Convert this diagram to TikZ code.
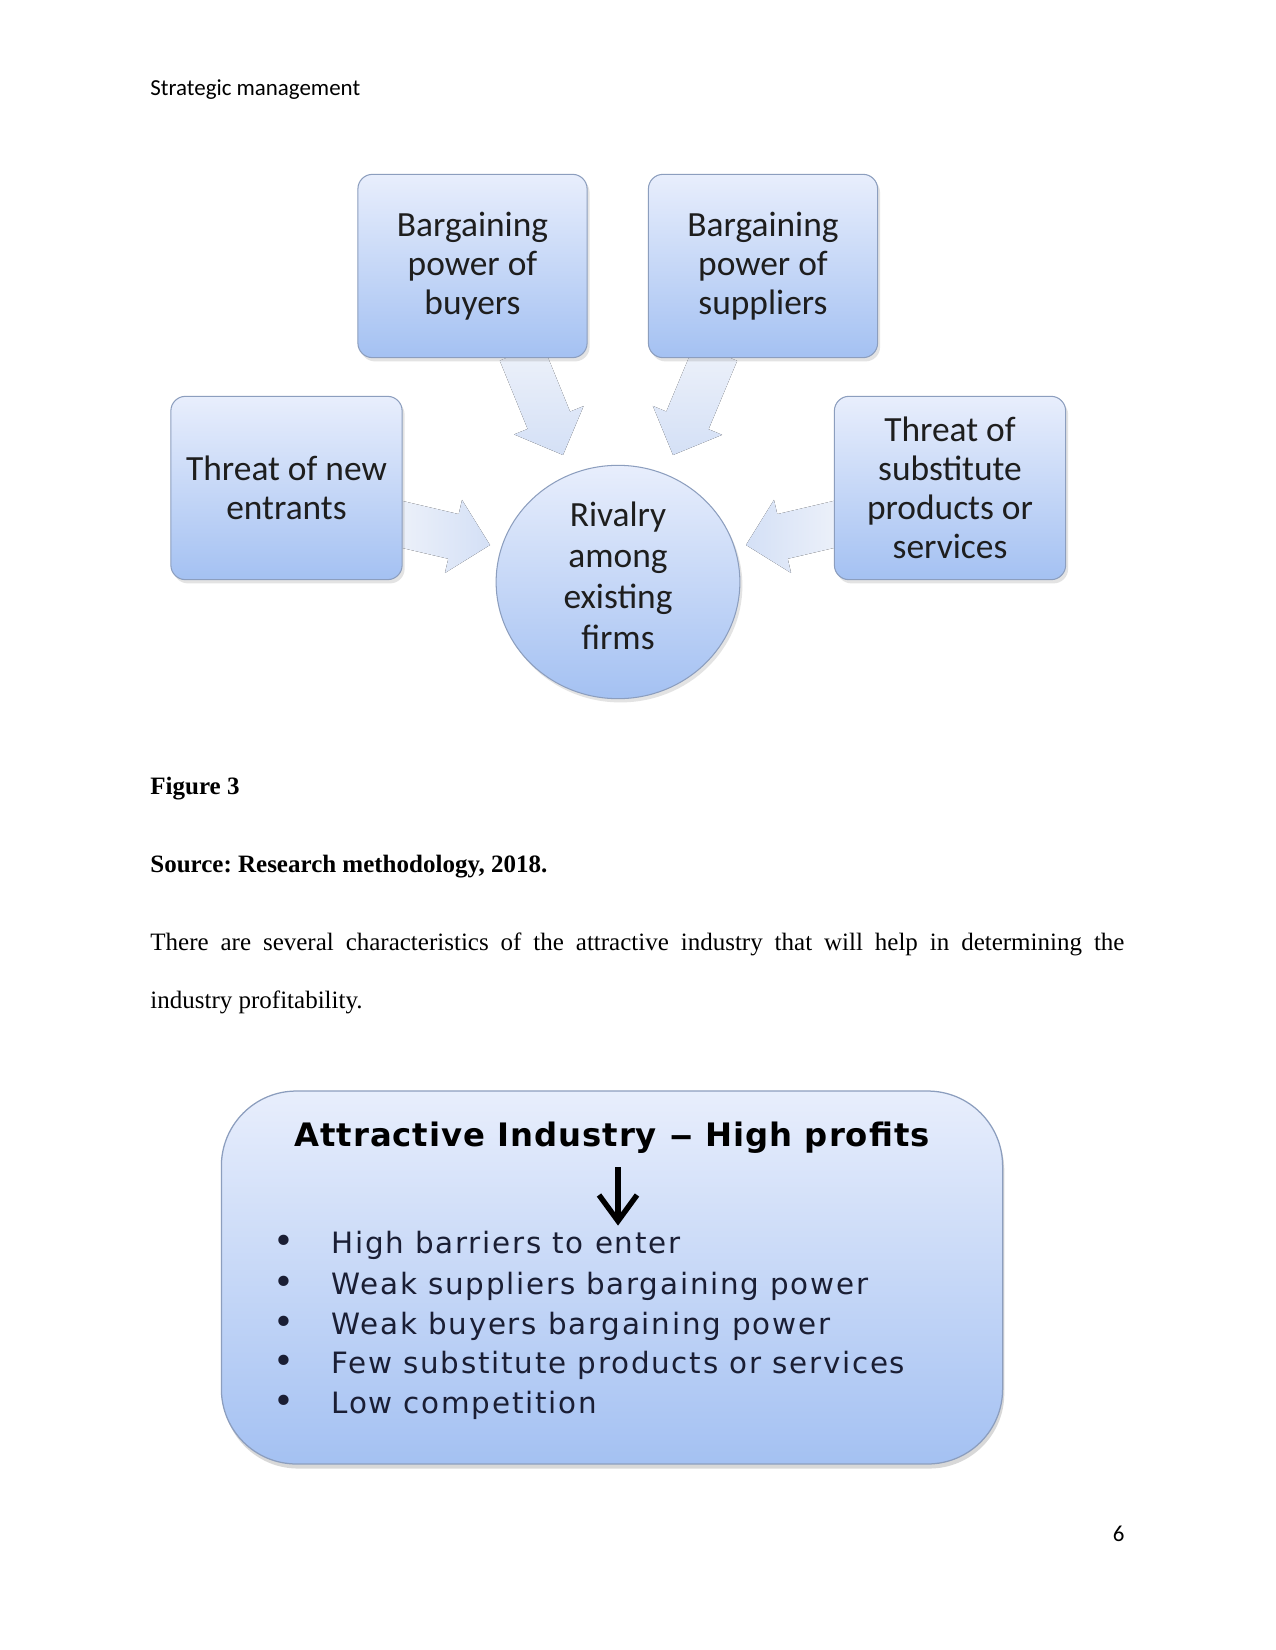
\documentclass[tikz,border=0pt]{standalone}
\usepackage{fontspec}
\setmainfont{Liberation Serif}
\newfontfamily\calibri{Carlito}
\newfontfamily\verd[LetterSpace=6]{DejaVu Sans}
\newfontfamily\verdb[LetterSpace=3]{DejaVu Sans Bold}
\newfontfamily\verdplain{DejaVu Sans}
\usetikzlibrary{calc,shapes.geometric,shadows}

\definecolor{boxtop}{RGB}{232,238,252}
\definecolor{boxbot}{RGB}{164,193,242}
\definecolor{boxline}{RGB}{140,158,190}
\definecolor{arrA}{RGB}{238,242,250}
\definecolor{arrB}{RGB}{212,224,246}
\definecolor{txt}{RGB}{30,30,30}
\definecolor{navy}{RGB}{26,30,52}

\newcommand\blockarr[4]{% #1 start, #2 tip, #3 name, #4 style
  \coordinate (#3b) at ($(#2)!18pt!(#1)$);
  \fill[#4] ($(#1)!11pt!90:(#2)$) -- ($(#3b)!11pt!90:(#2)$) -- ($(#3b)!18pt!90:(#2)$) -- (#2)
    -- ($(#3b)!18pt!-90:(#2)$) -- ($(#3b)!11pt!-90:(#2)$) -- ($(#1)!11pt!-90:(#2)$) -- cycle;}

\begin{document}
\frenchspacing
\begin{tikzpicture}[x=0.48pt,y=-0.48pt,
  forcebox/.style={rounded corners=7pt, draw=boxline, line width=0.5pt,
    top color=boxtop, bottom color=boxbot, minimum width=110pt, minimum height=88pt,
    align=center, font=\calibri\fontsize{17}{18.7}\selectfont, text=txt,
    drop shadow={opacity=0.22, shadow xshift=1.2pt, shadow yshift=-1.8pt}},
  rivalry/.style={ellipse, draw=boxline, line width=0.5pt,
    top color=boxtop, bottom color=boxbot, minimum width=117pt, minimum height=112pt,
    inner sep=0pt,
    drop shadow={opacity=0.22, shadow xshift=1.2pt, shadow yshift=-1.8pt}},
  rivaltxt/.style={inner sep=0pt, align=center, font=\calibri\fontsize{17}{19.6}\selectfont, text=txt},
  bigbox/.style={rounded corners=36pt, draw=boxline, line width=0.6pt,
    top color=boxtop, bottom color=boxbot, minimum width=375pt, minimum height=179pt,
    drop shadow={opacity=0.3, shadow xshift=0.8pt, shadow yshift=-2.2pt}},
  item/.style={anchor=base west, inner sep=0pt, text=navy, font=\verd\fontsize{14.1}{16}\selectfont},
  bul/.style={inner sep=0pt, text=navy, font=\verdplain\fontsize{17}{18}\selectfont},
  bodytext/.style={anchor=base west, inner sep=0pt, font=\fontsize{12}{14}\selectfont},
  captext/.style={anchor=base west, inner sep=0pt, font=\bfseries\fontsize{12}{14}\selectfont},
  headtext/.style={inner sep=0pt, font=\calibri\fontsize{11}{13}\selectfont},
  varrow/.style={line width=2.6pt, black}
]
\useasboundingbox (0,0) rectangle (1275,1650);
\fill[white] (0,0) rectangle (1275,1650);

% header and page number
\node[headtext, anchor=base west] (hdr) at (150,96) {Strategic management};
\node[headtext, anchor=base east] (pgno) at (1125,1541) {6};

% coordinates of arrow ends
\coordinate (s1) at (521,352);  \coordinate (t1) at (563,455);
\coordinate (s2) at (716,352);  \coordinate (t2) at (673,455);
\coordinate (s3) at (396,523);  \coordinate (t3) at (490,545);
\coordinate (s4) at (840,523);  \coordinate (t4) at (746,545);

% block arrows (behind boxes)
\blockarr{s1}{t1}{a1}{top color=arrA, bottom color=arrB}
\blockarr{s2}{t2}{a2}{top color=arrA, bottom color=arrB}
\blockarr{s3}{t3}{a3}{left color=arrA, right color=arrB}
\blockarr{s4}{t4}{a4}{left color=arrB, right color=arrA}

% boxes
\node[forcebox] (buyers) at (472.5,266) {Bargaining\\power of\\buyers};
\node[forcebox] (suppliers) at (763,266) {Bargaining\\power of\\suppliers};
\node[forcebox, minimum width=111pt] (entrants) at (286.5,488) {Threat of new\\entrants};
\node[forcebox, minimum width=111pt] (subst) at (950,488) {Threat of\\substitute\\products or\\services};
\node[rivalry] (rival) at (618,582) {};
\node[rivaltxt] (rivaltext) at (618,576) {Rivalry\\among\\existing\\firms};

% captions and paragraph
\node[captext] (fig) at (150,794) {Figure 3};
\node[captext] (src) at (150,872) {Source: Research methodology, 2018.};
\node[bodytext] (para1) at (150,950) {\makebox[467.5pt][s]{There are several characteristics of the attractive industry that will help in determining the}};
\node[bodytext] (para2) at (150,1008) {industry profitability.};

% bottom box
\node[bigbox] (attr) at (612,1277.5) {};
\node[inner sep=0pt, text=black, font=\verdb\fontsize{15.5}{18}\selectfont, anchor=base] (title) at (612,1146) {Attractive Industry \scalebox{1.5}[1]{–} High profits};
\coordinate (va) at (618,1167);
\coordinate (vb) at (618,1221);
\coordinate (vl) at (599,1195);
\coordinate (vr) at (637,1195);
\draw[varrow] (va) -- (vb);
\draw[varrow, line join=miter] (vl) -- (vb) -- (vr);

\foreach \y/\t [count=\i] in {1253/High barriers to enter, 1294/Weak suppliers bargaining power, 1334/Weak buyers bargaining power, 1373/Few substitute products or services, 1413/Low competition}{
  \node[bul] (b\i) at (284,\y-9) {•};
  \node[item] (it\i) at (331,\y) {\t};
}
\end{tikzpicture}
\end{document}
